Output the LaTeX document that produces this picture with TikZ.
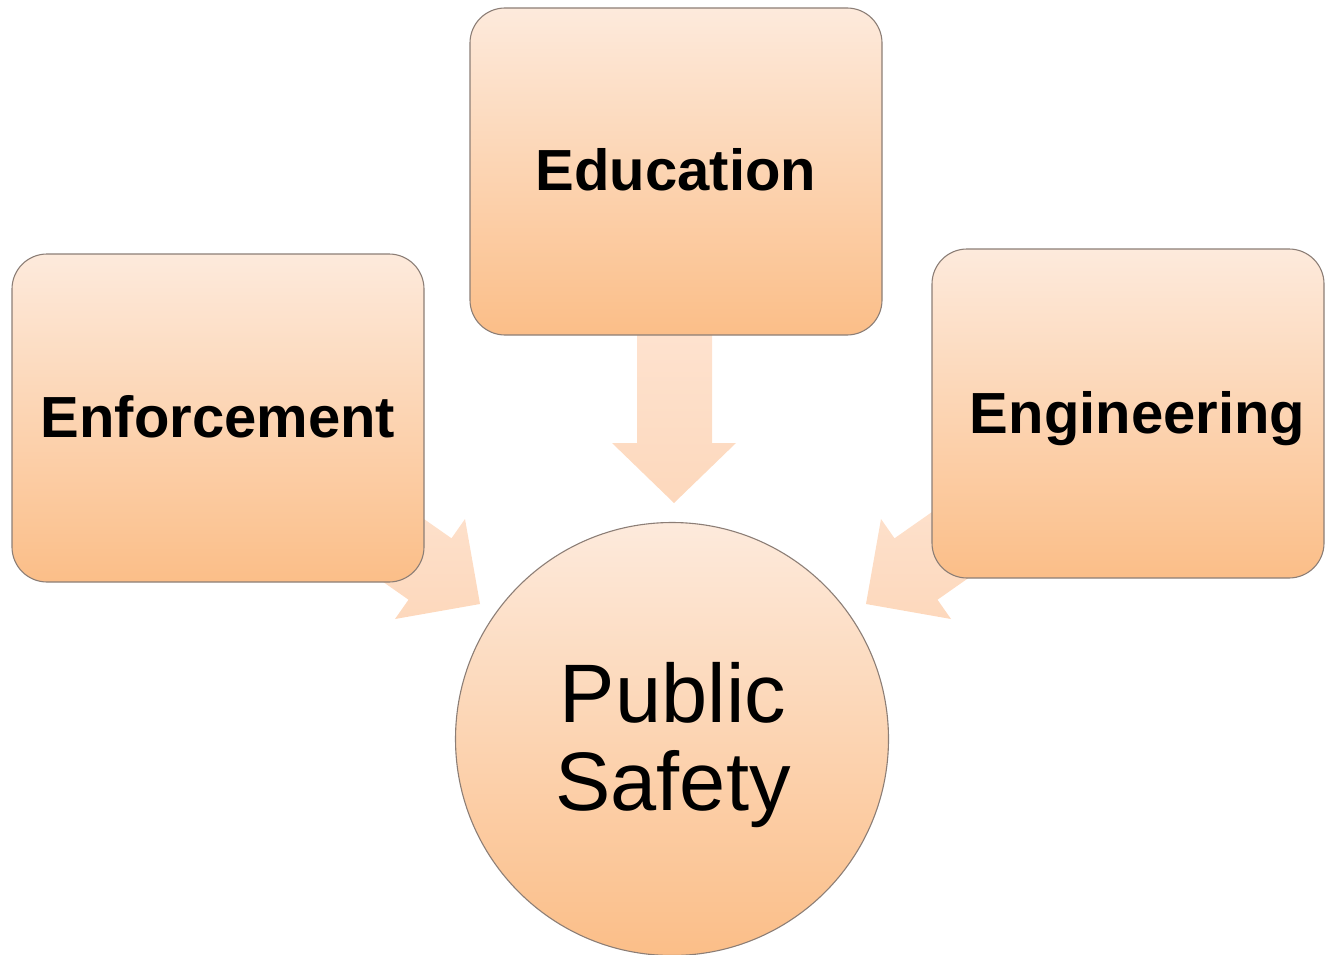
\documentclass[tikz,border=0pt]{standalone}
\usepackage{fontspec}
\setmainfont{Liberation Sans}
\begin{document}
\begin{tikzpicture}[x=1pt,y=-1pt,
  boxstyle/.style={draw=boxline, line width=1.1pt, rounded corners=35pt,
    top color=boxtop, bottom color=boxbot, shading angle=0},
  arrowstyle/.style={top color=arrtop, bottom color=arrbot, draw=none},
  lbl/.style={font=\fontsize{58}{64}\selectfont\bfseries, anchor=base, inner sep=0pt},
  ]
\definecolor{boxtop}{HTML}{FDEADC}
\definecolor{boxbot}{HTML}{FBBE88}
\definecolor{boxline}{HTML}{8C7E76}
\definecolor{arrtop}{HTML}{FEE7D8}
\definecolor{arrbot}{HTML}{FDD8BC}
\useasboundingbox (0,0) rectangle (1327,955);
\clip (0,0) rectangle (1327,955);
% block arrows (behind the boxes)
\path[arrowstyle] (637,250) -- (712,250) -- (712,443) -- (736,443) -- (674,503)
  -- (612,443) -- (637,443) -- cycle;
\path[arrowstyle] (287.5,423.3) -- (451.5,538.3) -- (465,519) -- (480,604)
  -- (395,619) -- (408.5,599.7) -- (244.5,484.7) -- cycle;
\path[arrowstyle] (1058.5,423.3) -- (894.5,538.3) -- (881,519) -- (866,604)
  -- (951,619) -- (937.5,599.7) -- (1101.5,484.7) -- cycle;
% boxes
\node[boxstyle, minimum width=412pt, minimum height=327pt, inner sep=0pt] (edu) at (676,171.5) {};
\node[boxstyle, minimum width=412pt, minimum height=328pt, inner sep=0pt] (enf) at (218,418) {};
\node[boxstyle, minimum width=392pt, minimum height=329pt, inner sep=0pt] (eng) at (1128,413.5) {};
\node[circle, draw=boxline, line width=1.1pt, top color=boxtop, bottom color=boxbot,
  minimum size=433pt, inner sep=0pt] (ps) at (672,739) {};
% labels
\node[lbl] (tedu) at (676,190) {Education};
\node[lbl] (tenf) at (218,437) {Enforcement};
\node[lbl] (teng) at (1137.5,433) {Engineering};
\node[font=\fontsize{83}{88}\selectfont, align=center, anchor=base, inner sep=0pt] (tps) at (673,810)
  {Public\\Safety};
\end{tikzpicture}
\end{document}
